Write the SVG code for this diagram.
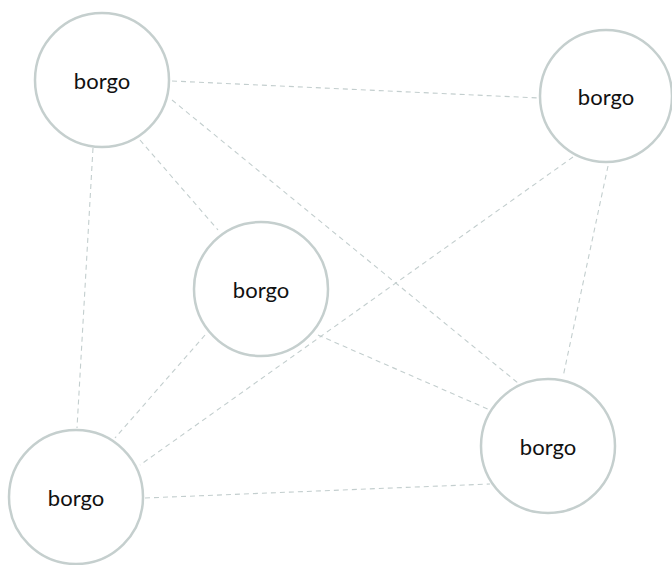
<svg xmlns="http://www.w3.org/2000/svg" width="672" height="565" viewBox="0 0 672 565">
<style>
.edge{stroke:#c3cece;stroke-width:1.1;stroke-dasharray:5,4;fill:none}
.node circle{fill:#fff;stroke:#c5cfce;stroke-width:2.5}
.node text{font-family:Lato,"Noto Sans","Liberation Sans",sans-serif;font-size:22px;fill:#111;text-anchor:middle;dominant-baseline:central}
</style>
<rect width="672" height="565" fill="#fff"/>
<g id="edges">
<line class="edge" x1="172" y1="81" x2="539" y2="98"/>
<line class="edge" x1="140" y1="140" x2="218" y2="230"/>
<line class="edge" x1="93" y1="148" x2="77" y2="428"/>
<line class="edge" x1="172" y1="100" x2="518" y2="383"/>
<line class="edge" x1="573" y1="157" x2="140" y2="465"/>
<line class="edge" x1="608" y1="166" x2="563" y2="377"/>
<line class="edge" x1="205" y1="335" x2="115" y2="438"/>
<line class="edge" x1="318" y1="335" x2="490" y2="410"/>
<line class="edge" x1="145" y1="498" x2="490" y2="484"/>
</g>
<g id="n1" class="node"><circle cx="102" cy="80" r="67"/><text x="102" y="80">borgo</text></g>
<g id="n2" class="node"><circle cx="606" cy="96" r="66"/><text x="606" y="96">borgo</text></g>
<g id="n3" class="node"><circle cx="261" cy="289" r="67"/><text x="261" y="289">borgo</text></g>
<g id="n4" class="node"><circle cx="76" cy="497" r="67"/><text x="76" y="497">borgo</text></g>
<g id="n5" class="node"><circle cx="548" cy="446" r="67"/><text x="548" y="446">borgo</text></g>
</svg>
